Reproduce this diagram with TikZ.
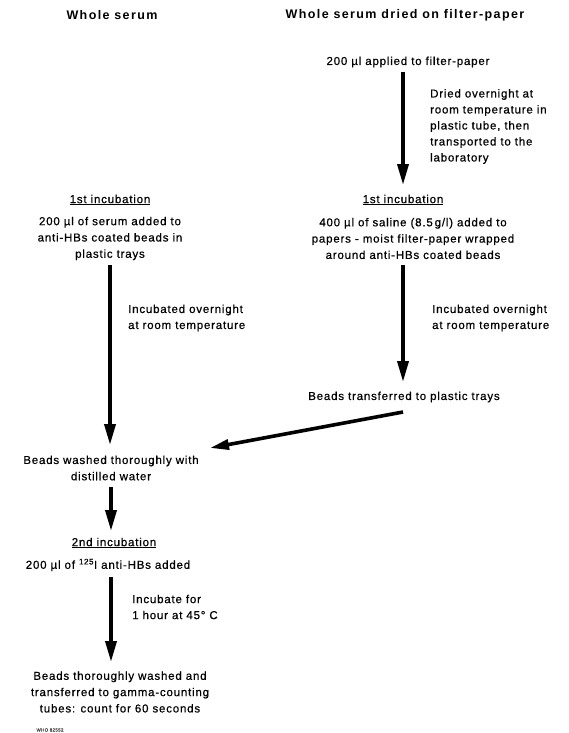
\documentclass[tikz,border=0pt]{standalone}
\usepackage{fontspec}
\setmainfont{Liberation Sans}[LetterSpace=7,FakeBold=0.6]
\newfontfamily\hdfont{Liberation Sans}[LetterSpace=11]
\usetikzlibrary{arrows.meta}
\begin{document}
\begin{tikzpicture}[x=1pt,y=-1pt,
  txt/.style={inner sep=0pt,align=center,font=\fontsize{11.5}{16.3}\selectfont},
  lbl/.style={inner sep=0pt,align=left,anchor=west,font=\fontsize{11.5}{16}\selectfont},
  hdr/.style={inner sep=0pt,font=\hdfont\fontsize{12.5}{15}\selectfont\bfseries},
  arr/.style={line width=3.6pt,-{Triangle[length=21pt,width=11pt]}}]
\useasboundingbox (0,0) rectangle (569,733);
% headers
\node[hdr] (h1) at (112,15) {Whole serum};
\node[hdr] (h2) at (405,15) {Whole serum dried on filter-paper};
% right column
\node[txt] (applied) at (408,62) {200 \textmu l applied to filter-paper};
\node[lbl] (dried) at (430,126.5) {Dried overnight at\\room temperature in\\plastic tube, then\\transported to the\\laboratory};
\node[txt] (inc1r) at (403,200) {\underline{1st incubation}};
\node[txt] (salin) at (413,238.5) {400 \textmu l of saline (8.5\,g/l) added to\\papers - moist filter-paper wrapped\\around anti-HBs coated beads};
\node[lbl] (incr) at (432,318) {Incubated overnight\\at room temperature};
\node[txt] (trans) at (404,397) {Beads transferred to plastic trays};
% left column
\node[txt] (inc1l) at (110,200) {\underline{1st incubation}};
\node[txt] (serum) at (110,238.5) {200 \textmu l of serum added to\\anti-HBs coated beads in\\plastic trays};
\node[lbl] (incl) at (128,318) {Incubated overnight\\at room temperature};
\node[txt] (washed) at (111,468) {Beads washed thoroughly with\\distilled water};
\node[txt] (inc2) at (114,543) {\underline{2nd incubation}};
\node[txt] (i125) at (108,565) {200 \textmu l of \textsuperscript{125}I anti-HBs added};
\node[lbl] (hour) at (132,607) {Incubate for\\1 hour at 45\textdegree\ C};
\node[txt] (final) at (120,692) {Beads thoroughly washed and\\transferred to gamma-counting\\tubes: count for 60 seconds};
\node[inner sep=0pt,font=\fontsize{4.5}{5}\selectfont,text=black!70] (tag) at (50,730) {WHO 82552};
% arrow end points
\coordinate (a1s) at (403,72);  \coordinate (a1e) at (403,185);
\coordinate (a2s) at (403,265); \coordinate (a2e) at (403,382);
\coordinate (a3s) at (110,265); \coordinate (a3e) at (110,445);
\coordinate (a4s) at (403,412); \coordinate (a4e) at (210,448);
\coordinate (a5s) at (111,487); \coordinate (a5e) at (111,531);
\coordinate (a6s) at (111,577); \coordinate (a6e) at (111,662);
\draw[arr] (a1s) -- (a1e);
\draw[arr] (a2s) -- (a2e);
\draw[arr] (a3s) -- (a3e);
\draw[arr,-{Triangle[length=19pt,width=10pt]}] (a4s) -- (a4e);
\draw[arr] (a5s) -- (a5e);
\draw[arr] (a6s) -- (a6e);
\end{tikzpicture}
\end{document}
